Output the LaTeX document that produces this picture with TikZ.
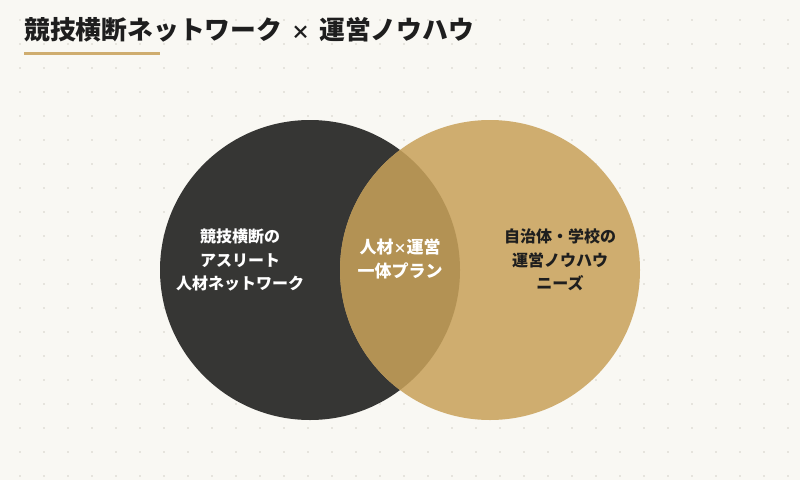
\documentclass[tikz,border=0pt]{standalone}
\usepackage{fontspec}
\setmainfont{Noto Sans CJK JP}
\definecolor{paper}{HTML}{F9F8F3}
\definecolor{griddot}{HTML}{E6E4DD}
\definecolor{charcoal}{HTML}{363634}
\definecolor{sand}{HTML}{CFAD6F}
\definecolor{bronze}{HTML}{B39254}
\definecolor{ink}{HTML}{1E1E1E}
\begin{document}
\begin{tikzpicture}[x=1pt,y=-1pt,
    label text/.style={align=center, inner sep=0pt, font=\fontsize{16}{23.5}\selectfont\bfseries}]
        \fill[paper] (0,0) rectangle (800,480);
        \useasboundingbox (0,0) rectangle (800,480);
        \foreach \i in {0,...,32}
          \foreach \j in {0,...,19}
            \fill[griddot] (20+24*\i-1,20+24*\j-1) rectangle ++(2,2);

        \node[anchor=west, inner sep=0pt, text=ink, font=\fontsize{25.8}{30}\selectfont\bfseries] (title) at (24,30) {競技横断ネットワーク\hspace{9pt}{\fontsize{19}{30}\selectfont ×}\hspace{9pt}運営ノウハウ};
        \fill[sand] (24,52) rectangle (160,55);

        \fill[charcoal] (310,270) circle (150);
        \fill[sand] (490,270) circle (150);
        \begin{scope}
          \clip (310,270) circle (150);
          \fill[bronze] (490,270) circle (150);
        \end{scope}

        \node[label text, text=white] (network) at (240,260) {競技横断の\\アスリート\\人材ネットワーク};
        \node[label text, text=white, font=\fontsize{17}{24}\selectfont\bfseries] (plan) at (400,259) {人材{\fontsize{13}{24}\selectfont ×}運営\\一体プラン};
        \node[label text, text=ink] (needs) at (560,260) {自治体・学校の\\運営ノウハウ\\ニーズ};
      \end{tikzpicture}
\end{document}
